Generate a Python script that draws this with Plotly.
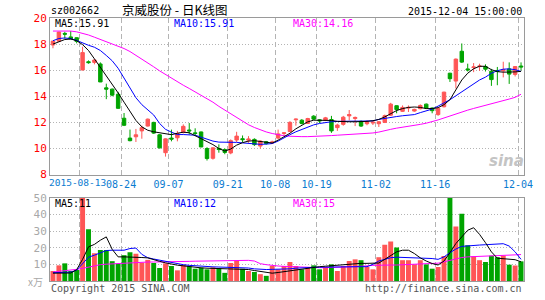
import plotly.graph_objects as go

dates = [
    "2015-08-06", "2015-08-07", "2015-08-10", "2015-08-11", "2015-08-12", "2015-08-13", "2015-08-14",
    "2015-08-17", "2015-08-18", "2015-08-19", "2015-08-20", "2015-08-21", "2015-08-24", "2015-08-25",
    "2015-08-26", "2015-08-27", "2015-08-28", "2015-08-31",
    "2015-09-01", "2015-09-02", "2015-09-07", "2015-09-08", "2015-09-09", "2015-09-10", "2015-09-11",
    "2015-09-14", "2015-09-15", "2015-09-16", "2015-09-17", "2015-09-18", "2015-09-21", "2015-09-22",
    "2015-09-23", "2015-09-24", "2015-09-25", "2015-09-28", "2015-09-29", "2015-09-30",
    "2015-10-08", "2015-10-09", "2015-10-12", "2015-10-13", "2015-10-14", "2015-10-15", "2015-10-16",
    "2015-10-19", "2015-10-20", "2015-10-21", "2015-10-22", "2015-10-23", "2015-10-26", "2015-10-27",
    "2015-10-28", "2015-10-29", "2015-10-30",
    "2015-11-02", "2015-11-03", "2015-11-04", "2015-11-05", "2015-11-06", "2015-11-09", "2015-11-10",
    "2015-11-11", "2015-11-12", "2015-11-13", "2015-11-16", "2015-11-17", "2015-11-18", "2015-11-19",
    "2015-11-20", "2015-11-23", "2015-11-24", "2015-11-25", "2015-11-26", "2015-11-27", "2015-11-30",
    "2015-12-01", "2015-12-02", "2015-12-03", "2015-12-04",
]

opens = [17.93, 18.22, 18.82, 18.55, 18.49, 16.02, 16.65, 16.60, 16.48, 14.65,
         14.55, 14.16, 12.32, 10.80, 10.90, 11.35, 11.72, 12.00, 11.05, 9.68,
         10.80, 10.82, 11.25, 11.42, 11.20, 11.27, 10.00, 9.25, 10.00, 9.92,
         9.66, 10.65, 10.75, 10.64, 10.70, 10.19, 10.52, 10.42, 10.80, 11.15,
         11.30, 12.20, 12.17, 11.92, 12.48, 12.20, 12.15, 12.22, 11.60, 11.85,
         12.50, 12.30, 12.08, 11.90, 11.95, 11.90, 12.00, 12.55, 13.28, 12.85,
         13.10, 12.87, 13.05, 13.40, 13.10, 12.60, 13.20, 15.77, 15.17, 17.45,
         16.10, 16.20, 16.28, 16.28, 15.92, 15.98, 15.95, 16.10, 15.68, 16.32]
highs = [18.25, 18.95, 18.94, 19.00, 18.52, 17.80, 16.75, 16.85, 16.60, 14.97,
         14.60, 14.34, 12.72, 11.45, 11.50, 11.75, 12.30, 12.05, 11.10, 10.78,
         11.45, 11.35, 11.85, 11.95, 11.55, 11.30, 10.10, 10.10, 10.32, 10.00,
         10.70, 11.28, 11.00, 10.95, 10.78, 10.62, 10.58, 10.60, 11.45, 11.25,
         12.10, 12.30, 12.25, 12.35, 12.55, 12.25, 12.42, 12.50, 11.90, 12.50,
         12.95, 12.45, 12.15, 12.15, 12.10, 12.10, 12.60, 13.50, 13.30, 13.30,
         13.30, 13.05, 13.38, 13.45, 13.15, 13.10, 14.35, 15.80, 16.90, 18.05,
         16.50, 16.55, 16.50, 16.45, 16.10, 16.25, 16.65, 16.60, 16.30, 16.60]
lows = [17.68, 18.20, 18.42, 18.38, 18.06, 15.98, 16.50, 16.45, 15.09, 13.78,
        14.00, 13.05, 11.72, 10.55, 10.50, 10.75, 11.68, 11.12, 10.00, 9.38,
        10.55, 10.55, 11.15, 11.07, 10.95, 10.10, 9.08, 9.15, 9.68, 9.56,
        9.56, 10.50, 10.48, 10.44, 10.20, 9.99, 10.30, 10.35, 10.70, 10.95,
        11.25, 11.75, 11.85, 11.90, 12.20, 11.95, 12.10, 11.20, 11.35, 11.75,
        12.15, 11.72, 11.65, 11.78, 11.80, 11.65, 11.95, 12.50, 12.70, 12.80,
        12.80, 12.82, 13.00, 13.05, 12.70, 12.50, 13.15, 15.10, 14.60, 16.55,
        15.90, 15.85, 15.95, 15.90, 14.80, 14.85, 15.45, 14.95, 15.52, 15.98]
closes = [18.23, 18.92, 18.76, 18.40, 18.21, 17.35, 16.58, 16.78, 15.10, 14.55,
          14.09, 13.08, 11.78, 10.60, 11.05, 11.60, 12.25, 11.18, 10.05, 10.74,
          10.72, 11.15, 11.70, 11.35, 11.15, 10.12, 9.23, 10.05, 9.92, 9.70,
          10.60, 10.95, 10.68, 10.72, 10.30, 10.57, 10.38, 10.50, 11.12, 11.20,
          12.00, 12.25, 11.92, 12.30, 12.25, 12.12, 12.35, 11.35, 11.80, 12.40,
          12.60, 12.38, 11.72, 12.05, 12.02, 12.05, 12.52, 13.40, 12.98, 13.15,
          13.15, 13.00, 13.30, 13.10, 12.90, 13.08, 14.32, 15.35, 16.85, 16.62,
          16.02, 16.25, 16.32, 16.08, 15.28, 15.90, 16.05, 15.70, 16.28, 16.25]

ma5 = [18.00, 18.19, 18.35, 18.39, 18.26, 17.96, 17.51, 16.87, 16.23, 15.55,
       14.98, 14.26, 13.55, 12.83, 12.15, 11.66, 11.40, 11.28, 11.21, 11.09,
       11.06, 11.17, 11.25, 11.21, 10.98, 10.75, 10.57, 10.30, 10.00, 9.81,
       9.96, 10.26, 10.45, 10.57, 10.60, 10.53, 10.45, 10.42, 10.64, 10.91,
       11.17, 11.51, 11.80, 12.04, 12.17, 12.17, 12.17, 12.15, 12.08, 12.05,
       12.05, 12.05, 12.05, 12.08, 12.13, 12.23, 12.42, 12.68, 12.91, 13.06,
       13.15, 13.18, 13.15, 13.06, 13.06, 13.13, 13.36, 13.74, 14.49, 15.25,
       15.77, 16.11, 16.30, 16.30, 16.04, 15.89, 15.85, 15.85, 15.87, 15.91]
ma10 = [18.26, 18.43, 18.47, 18.42, 18.28, 18.08, 17.91, 17.76, 17.51, 17.13,
        16.72, 16.15, 15.40, 14.57, 13.89, 13.36, 12.94, 12.57, 11.92, 11.47,
        11.25, 11.07, 11.07, 11.07, 11.02, 10.87, 10.72, 10.57, 10.49, 10.49,
        10.49, 10.47, 10.43, 10.39, 10.34, 10.32, 10.34, 10.38, 10.57, 10.83,
        11.06, 11.28, 11.47, 11.62, 11.81, 11.92, 12.00, 12.05, 12.08, 12.10,
        12.10, 12.10, 12.10, 12.10, 12.12, 12.23, 12.32, 12.40, 12.45, 12.51,
        12.55, 12.60, 12.75, 12.87, 13.02, 13.25, 13.47, 13.74, 14.04, 14.34,
        14.68, 14.98, 15.25, 15.47, 15.77, 15.96, 16.08, 16.10, 16.04, 15.91]
ma30 = [19.00, 19.00, 19.00, 19.00, 18.94, 18.84, 18.70, 18.53, 18.36, 18.19,
        18.02, 17.88, 17.66, 17.43, 17.15, 16.87, 16.58, 16.26, 15.95, 15.66,
        15.37, 15.10, 14.85, 14.60, 14.35, 14.10, 13.85, 13.55, 13.23, 12.94,
        12.64, 12.35, 12.08, 11.82, 11.61, 11.43, 11.27, 11.15, 11.05, 10.98,
        10.94, 10.91, 10.91, 10.91, 10.92, 10.94, 10.96, 10.99, 11.02, 11.04,
        11.06, 11.09, 11.12, 11.15, 11.19, 11.26, 11.38, 11.47, 11.56, 11.62,
        11.70, 11.74, 11.85, 11.94, 12.05, 12.19, 12.34, 12.50, 12.66, 12.81,
        12.94, 13.07, 13.18, 13.30, 13.41, 13.52, 13.64, 13.79, 13.92, 14.16]

volume = [6.0, 9.4, 10.6, 6.0, 6.6, 50.0, 31.1, 16.7, 18.6, 18.6,
          11.9, 10.4, 15.5, 17.3, 16.3, 11.0, 12.7, 10.8, 7.8, 10.6,
          9.0, 6.4, 9.6, 8.8, 7.4, 8.0, 7.0, 8.2, 7.6, 4.9,
          10.8, 12.1, 7.4, 6.0, 5.4, 4.1, 3.1, 9.0, 7.0, 9.0,
          11.4, 9.0, 7.0, 8.4, 9.4, 7.0, 8.4, 10.0, 6.0, 9.0,
          12.0, 13.0, 12.5, 8.4, 7.0, 14.3, 21.8, 23.8, 20.2, 12.5,
          12.5, 10.0, 12.5, 10.0, 7.4, 8.4, 15.0, 50.0, 32.7, 40.4,
          21.5, 14.8, 12.5, 11.4, 15.2, 14.3, 15.2, 9.8, 9.3, 11.8]
vma5 = [4.7, 4.7, 4.7, 4.8, 6.8, 13.0, 20.5, 22.0, 24.5, 26.5,
        19.0, 14.5, 14.5, 14.5, 14.3, 14.1, 13.9, 12.7, 11.8, 10.9,
        10.0, 9.5, 9.1, 8.6, 8.2, 7.9, 7.7, 7.6, 7.5, 7.4,
        7.4, 7.4, 7.4, 6.9, 6.3, 5.8, 5.0, 4.7, 5.1, 5.6,
        6.4, 7.0, 7.4, 7.8, 8.2, 8.6, 8.9, 9.2, 9.6, 10.0,
        10.3, 10.6, 10.6, 10.6, 10.6, 10.8, 13.0, 15.5, 17.5, 18.5,
        18.5, 16.5, 13.9, 12.0, 10.5, 9.6, 12.0, 17.0, 22.5, 26.5,
        30.5, 32.0, 28.0, 23.0, 17.5, 13.7, 13.5, 13.4, 12.8, 11.5]
vma10 = [5.0, 5.1, 5.2, 5.3, 6.5, 10.5, 14.3, 15.5, 17.0, 18.3,
         18.5, 18.5, 18.5, 19.5, 19.8, 16.0, 14.0, 13.2, 12.5, 11.8,
         11.0, 10.3, 9.8, 9.4, 9.1, 8.9, 8.7, 8.5, 8.4, 8.3,
         8.2, 8.1, 8.0, 7.8, 7.3, 7.0, 6.9, 7.0, 7.0, 7.0,
         7.3, 7.7, 8.0, 8.1, 8.2, 8.3, 8.4, 8.45, 8.5, 8.5,
         8.55, 8.6, 8.6, 8.6, 10.0, 12.0, 13.2, 14.0, 14.3, 14.2,
         14.0, 13.9, 13.9, 13.8, 13.5, 13.0, 14.5, 17.0, 19.2, 20.8,
         21.2, 21.4, 21.6, 21.8, 21.9, 22.2, 22.4, 21.0, 17.5, 13.0]
vma30 = [5.4, 5.7, 6.0, 6.4, 7.0, 7.6, 8.4, 9.2, 9.8, 10.1,
         10.3, 10.5, 10.6, 11.0, 11.3, 11.4, 11.4, 11.4, 11.4, 11.4,
         11.4, 11.5, 11.6, 11.8, 11.9, 12.0, 12.1, 12.2, 12.2, 12.3,
         12.3, 12.4, 12.4, 12.4, 12.0, 10.4, 9.8, 9.3, 9.0, 8.8,
         8.6, 8.4, 8.3, 8.2, 8.1, 8.0, 8.0, 8.0, 8.2, 8.4,
         8.5, 8.6, 8.8, 9.1, 9.4, 9.6, 9.6, 9.6, 9.6, 9.8,
         10.0, 10.1, 10.3, 10.5, 10.6, 10.7, 11.5, 12.5, 13.3, 14.1,
         14.5, 14.6, 14.7, 14.8, 14.9, 15.1, 15.3, 15.5, 15.7, 15.9]

tick_dates = ["2015-08-13", "2015-08-24", "2015-09-07", "2015-09-21", "2015-10-08",
              "2015-10-19", "2015-11-02", "2015-11-16", "2015-12-04"]
tick_labels = ["2015-08-13", "08-24", "09-07", "09-21", "10-08",
               "10-19", "11-02", "11-16", "12-04"]
price_ticks = [8, 10, 12, 14, 16, 18, 20]
vol_ticks = [10, 20, 30, 40, 50]

RED = "#ff5656"
GREEN = "#00a400"
MONO = "DejaVu Sans Mono"
CJK = "Noto Sans CJK SC"
GRID = "#b4b4b4"
FRAME = "#9a9a9a"
XLAB = "#0a7bd0"

xs = list(range(len(dates)))
tick_pos = [dates.index(d) - 0.5 for d in tick_dates]
vol_colors = [RED if c >= o else GREEN for o, c in zip(opens, closes)]
# the first (full-date) label is drawn separately, left-aligned at the plot edge
axis_text = [""] + tick_labels[1:]

W, H = 545, 300
ML, MR, MT, MB = 50, 15, 18, 15
PW, PH = W - ML - MR, H - MT - MB


def px(x):
    return (x - ML) / PW


def py(y):
    return (H - MB - y) / PH


fig = go.Figure()
fig.add_trace(go.Candlestick(
    x=xs, open=opens, high=highs, low=lows, close=closes,
    increasing=dict(line=dict(color=RED, width=1), fillcolor=RED),
    decreasing=dict(line=dict(color=GREEN, width=1), fillcolor=GREEN),
    whiskerwidth=0, hoverinfo="skip", showlegend=False, xaxis="x", yaxis="y"))
for arr, col in [(ma30, "#ff00ff"), (ma10, "#0000ff"), (ma5, "#000000")]:
    fig.add_trace(go.Scatter(x=xs, y=arr, mode="lines", line=dict(color=col, width=1),
                             hoverinfo="skip", showlegend=False, xaxis="x", yaxis="y"))

fig.add_trace(go.Bar(x=xs, y=volume, marker=dict(color=vol_colors, line=dict(width=0)),
                     width=0.83, hoverinfo="skip", showlegend=False, xaxis="x2", yaxis="y2"))
for arr, col in [(vma30, "#ff00ff"), (vma10, "#0000ff"), (vma5, "#000000")]:
    fig.add_trace(go.Scatter(x=xs, y=arr, mode="lines", line=dict(color=col, width=1),
                             hoverinfo="skip", showlegend=False, xaxis="x2", yaxis="y2"))

main_bottom = py(177)
vol_top = py(200.5)

common_x = dict(range=[-0.5, len(dates) - 0.5], tickvals=tick_pos, showgrid=True,
                gridcolor=GRID, griddash="5px,3px", gridwidth=1, zeroline=False,
                showline=True, mirror=True, linecolor=FRAME, linewidth=1, ticks="",
                tickangle=0, fixedrange=True)
fig.update_layout(
    width=W, height=H, margin=dict(l=ML, r=MR, t=MT, b=MB),
    paper_bgcolor="white", plot_bgcolor="white",
    font=dict(family=MONO, size=10, color="black"),
    boxgap=0.17,
    xaxis=dict(**common_x, domain=[0, 1], anchor="y", ticktext=axis_text,
               tickfont=dict(family=MONO, size=10, color=XLAB),
               rangeslider=dict(visible=False)),
    xaxis2=dict(**common_x, domain=[0, 1], anchor="y2", showticklabels=False),
    yaxis=dict(domain=[main_bottom, 1], range=[8, 20], tickvals=price_ticks,
               showgrid=True, gridcolor=GRID, griddash="1px,2px", zeroline=False,
               showline=True, mirror=True, linecolor=FRAME, linewidth=1, ticks="",
               tickfont=dict(family=MONO, size=11, color="#ff0000"), fixedrange=True),
    yaxis2=dict(domain=[0, vol_top], range=[0, 50], tickvals=vol_ticks,
                showgrid=True, gridcolor=GRID, griddash="1px,2px", zeroline=False,
                showline=True, mirror=True, linecolor=FRAME, linewidth=1, ticks="",
                tickfont=dict(family=MONO, size=11, color="#a8a8a8"), fixedrange=True),
)


def note(text, x, y, color="black", size=10, family=MONO, xanchor="left"):
    fig.add_annotation(text=text, x=px(x), y=py(y), xref="paper", yref="paper",
                       showarrow=False, xanchor=xanchor, yanchor="middle",
                       font=dict(family=family, size=size, color=color))


note("sz002662", 49, 10.5)
note("京威股份 - 日K线图", 177, 9.5, size=12.5, family=CJK, xanchor="center")
note("2015-12-04 15:00:00", 530, 11, xanchor="right")
note("MA5:15.91", 53, 24)
note("MA10:15.91", 174, 24, color="#0000ff")
note("MA30:14.16", 294, 24, color="#ff00ff")
note(tick_labels[0], 47, 185, color=XLAB, size=9.5)
note("MA5:11", 53, 206)
note("MA10:12", 174, 206, color="#0000ff")
note("MA30:15", 294, 206, color="#ff00ff")
note("x万", 45, 286, color="#a8a8a8", family=CJK, size=10, xanchor="right")
note("Copyright 2015 SINA.COM", 49, 292.5, color="#555555")
note("http://finance.sina.com.cn", 530, 292.5, color="#555555", xanchor="right")
note("<b><i>sina</i></b>", 512, 163, color="#c4c4c4", size=15, family="DejaVu Sans",
     xanchor="center")

fig.write_html("out.html")
